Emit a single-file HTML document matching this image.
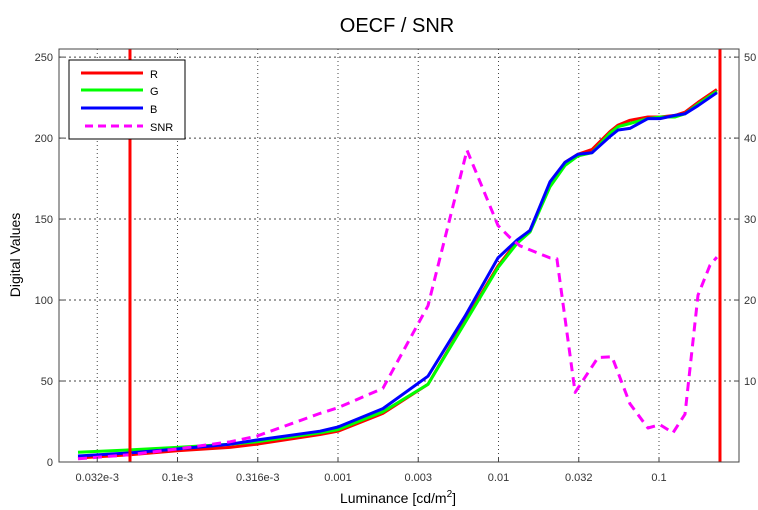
<!DOCTYPE html>
<html><head><meta charset="utf-8"><style>
html,body{margin:0;padding:0;background:#fff}
svg{display:block;font-family:"Liberation Sans",Arial,sans-serif}
</style></head><body>
<svg id="chart" width="758" height="510" viewBox="0 0 758 510" xmlns="http://www.w3.org/2000/svg">
<rect width="758" height="510" fill="#fff"/>
<text x="397" y="32" font-size="20" text-anchor="middle" fill="#000">OECF / SNR</text>
<g id="grid"></g>
<g id="series"></g>
<rect x="59" y="49" width="680" height="413" fill="none" stroke="#444" stroke-width="1"/>
<g id="axes"></g>
<text x="398" y="503" font-size="14" text-anchor="middle">Luminance [cd/m<tspan font-size="10" dy="-6">2</tspan><tspan dy="6">]</tspan></text>
<text x="0" y="0" font-size="14" text-anchor="middle" transform="translate(20,255) rotate(-90)">Digital Values</text>
<g>
<rect x="69" y="60" width="116" height="79" fill="#fff" stroke="#000" stroke-width="1"/>
<line x1="81" y1="73" x2="143" y2="73" stroke="#f00" stroke-width="3"/>
<text x="150" y="78" font-size="11">R</text>
<line x1="81" y1="90" x2="143" y2="90" stroke="#0f0" stroke-width="3"/>
<text x="150" y="95" font-size="11">G</text>
<line x1="81" y1="108" x2="143" y2="108" stroke="#00f" stroke-width="3"/>
<text x="150" y="113" font-size="11">B</text>
<line x1="85" y1="126" x2="143" y2="126" stroke="#f0f" stroke-width="3" stroke-dasharray="8,5"/>
<text x="150" y="131" font-size="11">SNR</text>
</g>
</svg>
<script>
const rgbLogL = [-4.62,-4.296,-4.003,-3.673,-3.505,-3.112,-3.0,-2.72,-2.439,-2.209,-2.003,-1.885,-1.804,-1.679,-1.586,-1.505,-1.417,-1.305,-1.255,-1.181,-1.069,-0.994,-0.900,-0.838,-0.757,-0.639];
const redVals = [2.5,4.5,7,9,11,17,19,30,48,87,121,136,143,171,185,190,193,204,208,211,213,213,214,216,222,230];
const greenVals = [6,7.5,9,11,12.5,18,20,31,48,86,120,135,142,170,183,189,191,203,207,209,212,213,213,215,221,229];
const blueVals = [3.7,5.6,8,11,13.6,19,21.6,33,53,90,126,137,143,173,185,190,191,201,205,206,212,212,214,215,220,228];
const snrLogL = [-4.62,-4.296,-4.003,-3.673,-3.505,-3.112,-3.0,-2.72,-2.439,-2.196,-2.003,-1.928,-1.866,-1.679,-1.636,-1.523,-1.380,-1.293,-1.181,-1.069,-0.994,-0.913,-0.838,-0.757,-0.682,-0.639];
const snrVals = [0.4,0.9,1.6,2.5,3.2,6.0,6.7,9.1,19.3,38.5,29.2,27.7,26.7,25.2,25.1,8.6,12.9,13.0,7.2,4.2,4.6,3.6,5.9,20.6,24.3,25.3];
const xTickLog = [-4.5,-4,-3.5,-3,-2.5,-2,-1.5,-1];
const xTickLabels = ["0.032e-3","0.1e-3","0.316e-3","0.001","0.003","0.01","0.032","0.1"];
const yTicks = [0,50,100,150,200,250];
const y2Ticks = [10,20,30,40,50];
const markerLogL = [-4.296,-0.62];

const NS="http://www.w3.org/2000/svg";
const X0=59,X1=739,Y0=462,Y1=49;
const LMIN=-3-(338-59)/160.5, LMAX=-3+(739-338)/160.5;
const xs=l=>X0+(l-LMIN)/(LMAX-LMIN)*(X1-X0);
const ys=v=>Y0-v/255*(Y0-Y1);
const ys2=v=>Y0-v/51*(Y0-Y1);
function mk(t,a,p){const e=document.createElementNS(NS,t);for(const k in a)e.setAttribute(k,a[k]);p.appendChild(e);return e;}
const grid=document.getElementById('grid'),axes=document.getElementById('axes'),ser=document.getElementById('series');
xTickLog.forEach((l,i)=>{const x=xs(l);
 const g=mk('line',{x1:x,y1:Y1,x2:x,y2:Y0,stroke:'#444','stroke-width':1,'stroke-dasharray':'1,3'},grid);
 
 
 mk('line',{x1:x,y1:Y0,x2:x,y2:Y0-5,stroke:'#444'},axes);
 const t=mk('text',{x:x,y:Y0+19,'font-size':11,'text-anchor':'middle',fill:'#333'},axes);t.textContent=xTickLabels[i];
 
 
});
yTicks.forEach(v=>{const y=ys(v);
 if(v>0){const g=mk('line',{x1:X0,y1:y,x2:X1,y2:y,stroke:'#444','stroke-width':1,'stroke-dasharray':'2,3'},grid);
 
 }
 mk('line',{x1:X0,y1:y,x2:X0+5,y2:y,stroke:'#444'},axes);
 const t=mk('text',{x:X0-6,y:y+4,'font-size':11,'text-anchor':'end',fill:'#333'},axes);t.textContent=v;
 
 
});
y2Ticks.forEach(v=>{const y=ys2(v);
 mk('line',{x1:X1,y1:y,x2:X1-5,y2:y,stroke:'#444'},axes);
 const t=mk('text',{x:X1+5,y:y+4,'font-size':11,fill:'#333'},axes);t.textContent=v;
 
 
});
function line(xsArr,vals,yf,color,name,dash){
 const d=xsArr.map((l,i)=>(i?'L':'M')+xs(l).toFixed(1)+','+yf(vals[i]).toFixed(1)).join(' ');
 const p=mk('path',{d:d,fill:'none',stroke:color,'stroke-width':3,'stroke-linejoin':'round'},ser);
 if(dash)p.setAttribute('stroke-dasharray',dash);
 
 
}
line(rgbLogL,redVals,ys,'#f00','series-r');
line(rgbLogL,greenVals,ys,'#0f0','series-g');
line(rgbLogL,blueVals,ys,'#00f','series-b');
line(snrLogL,snrVals,ys2,'#f0f','series-snr','9,6');
markerLogL.forEach(l=>{const m=mk('line',{x1:xs(l),y1:Y1,x2:xs(l),y2:Y0,stroke:'#f00','stroke-width':3},ser);
 
 });
</script>
</body></html>
